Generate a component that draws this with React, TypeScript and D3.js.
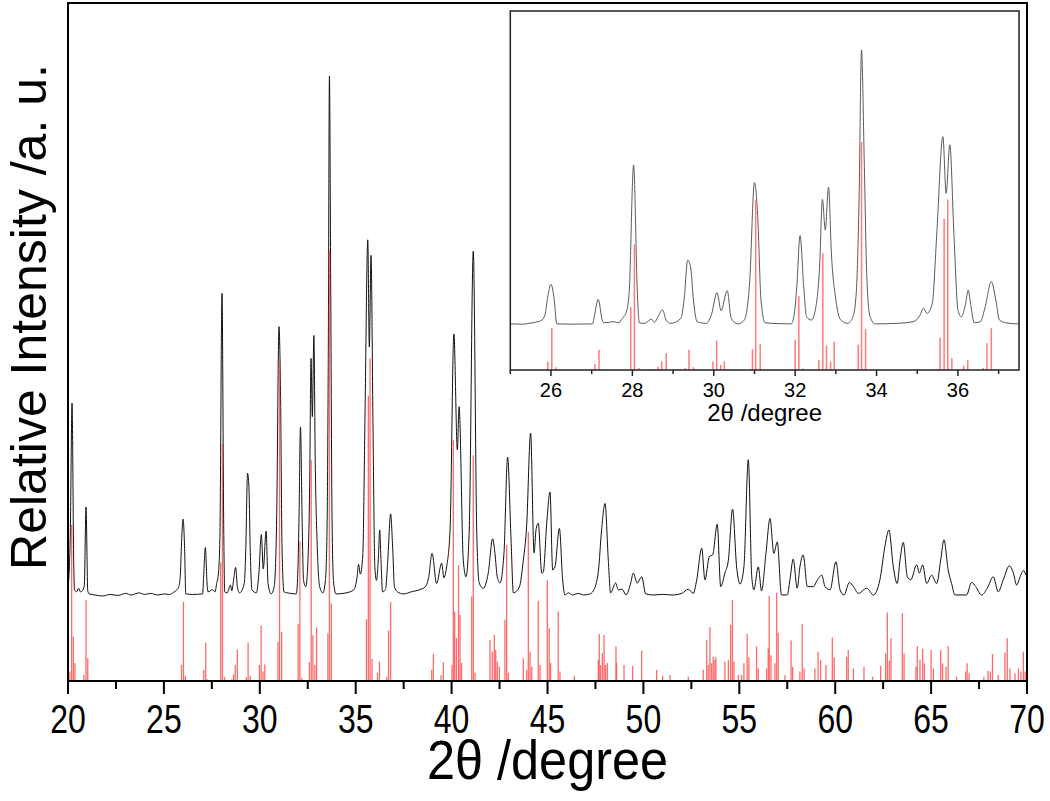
import React from "react";
import * as d3 from "d3";

// Measured XRD pattern: [2θ (degree), relative intensity (%)]
const pattern: [number, number][] = [
  [20.0, 1.2], [20.12, 12], [20.21, 37.1], [20.3, 6], [20.34, 1.2], [20.45, 0.8], [20.55, 1.5], [20.65, 0.8],
  [20.75, 1.0], [20.85, 2.0], [20.94, 17.1], [21.03, 1.0], [21.1, 0.4], [21.4, 0.2], [21.8, 0.0], [22.2, 0.3],
  [22.6, 0.1], [23.0, 0.5], [23.3, 0.2], [23.7, 0.6], [24.0, 0.3], [24.3, 0.5], [24.7, 0.2], [25.0, 0.4],
  [25.3, 0.3], [25.5, 0.7], [25.68, 1.2], [25.76, 1.6], [25.85, 3.6], [25.92, 10.3], [26.0, 14.8], [26.08, 9.1],
  [26.14, 0.4], [26.5, 0.3], [27.02, 0.4], [27.07, 3.6], [27.16, 9.3], [27.26, 1.8], [27.3, 0.8], [27.54, 1.2],
  [27.67, 0.8], [27.75, 2.4], [27.84, 4.2], [27.92, 11.5], [28.03, 58.2], [28.12, 12.7], [28.17, 0.8], [28.3, 0.6],
  [28.47, 2.1], [28.54, 1.0], [28.64, 3.3], [28.74, 5.5], [28.83, 1.8], [28.94, 0.6], [29.19, 2.4], [29.27, 9.1],
  [29.36, 23.6], [29.43, 21.2], [29.5, 9.1], [29.59, 1.2], [29.82, 0.6], [29.95, 4.2], [30.08, 11.8], [30.18, 5.2],
  [30.33, 12.5], [30.43, 2.4], [30.59, 0.4], [30.75, 1.8], [30.88, 15.2], [31.0, 51.8], [31.08, 39.4], [31.16, 9.1],
  [31.26, 0.8], [31.6, 0.5], [31.9, 0.4], [31.98, 4.2], [32.04, 13.9], [32.12, 32.5], [32.21, 13.9], [32.28, 3.0],
  [32.4, 1.8], [32.51, 6.7], [32.6, 21.2], [32.67, 45.7], [32.74, 34.5], [32.82, 50.1], [32.89, 26.1], [33.0, 9.1],
  [33.12, 1.8], [33.29, 0.6], [33.42, 3.0], [33.5, 11.5], [33.57, 45.5], [33.63, 100], [33.7, 57.6], [33.76, 17.6],
  [33.84, 3.0], [33.97, 0.4], [34.5, 0.6], [34.9, 1.2], [35.07, 3.6], [35.15, 6.1], [35.24, 4.2], [35.37, 7.9],
  [35.48, 33.3], [35.63, 68.5], [35.71, 47.9], [35.8, 65.5], [35.9, 33.3], [36.0, 5.5], [36.08, 3.0], [36.19, 7.9],
  [36.25, 12.7], [36.32, 6.7], [36.4, 0.8], [36.55, 1.2], [36.67, 6.7], [36.82, 15.8], [36.93, 9.1], [37.02, 1.8],
  [37.18, 0.8], [37.48, 0.4], [37.9, 0.8], [38.4, 1.3], [38.61, 1.7], [38.8, 3.5], [38.98, 8.2], [39.22, 2.4],
  [39.48, 6.3], [39.6, 3.5], [39.74, 5.6], [39.92, 12.7], [40.12, 50.4], [40.3, 28.1], [40.39, 36.4], [40.61, 6.9],
  [40.75, 3.7], [40.92, 12.7], [41.13, 66.3], [41.31, 12.7], [41.44, 2.5], [41.65, 1.5], [41.91, 4.4], [42.14, 11.0],
  [42.26, 8.2], [42.38, 3.7], [42.52, 2.5], [42.73, 8.2], [42.92, 26.7], [43.1, 10.8], [43.22, 0.6], [43.53, 1.7],
  [43.74, 6.9], [43.91, 13.3], [44.12, 31.3], [44.3, 8.3], [44.4, 12.7], [44.52, 14.0], [44.7, 4.4], [44.78, 4.6],
  [44.96, 14.0], [45.13, 20.0], [45.27, 5.0], [45.39, 5.6], [45.62, 13.0], [45.79, 3.1], [45.91, 0.2], [46.1, 0.6],
  [46.3, 0.2], [46.6, 0.5], [46.9, 0.2], [47.2, 0.4], [47.39, 1.0], [47.65, 4.7], [47.82, 12.7], [48.0, 17.8],
  [48.17, 6.9], [48.29, 0.6], [48.55, 2.5], [48.69, 1.2], [48.9, 1.3], [49.09, 0.2], [49.34, 2.5], [49.47, 4.4],
  [49.68, 2.5], [49.91, 3.7], [50.12, 0.4], [50.5, 0.2], [51.0, 0.3], [51.5, 0.2], [52.0, 0.5], [52.34, 1.3],
  [52.6, 0.5], [52.78, 3.1], [53.04, 9.2], [53.21, 3.1], [53.44, 7.6], [53.61, 7.9], [53.85, 13.8], [54.03, 1.8],
  [54.25, 4.4], [54.43, 6.9], [54.65, 16.7], [54.86, 5.6], [55.04, 2.3], [55.24, 5.6], [55.47, 26.2], [55.65, 3.7],
  [55.76, 1.2], [55.99, 5.6], [56.16, 1.0], [56.39, 8.2], [56.6, 14.9], [56.8, 8.2], [56.98, 10.4], [57.2, 0.2],
  [57.5, 0.2], [57.64, 3.1], [57.81, 7.1], [58.02, 1.5], [58.16, 5.6], [58.33, 7.9], [58.55, 1.8], [58.86, 1.8],
  [59.07, 3.1], [59.3, 4.0], [59.47, 1.8], [59.73, 1.2], [60.04, 6.6], [60.25, 1.2], [60.46, 0.2], [60.74, 2.6],
  [60.95, 1.8], [61.21, 0.5], [61.64, 1.5], [61.99, 0.2], [62.33, 3.1], [62.59, 9.5], [62.8, 12.7], [63.03, 5.6],
  [63.23, 2.4], [63.38, 6.9], [63.55, 10.3], [63.76, 3.7], [63.94, 3.1], [64.25, 6.0], [64.39, 4.4], [64.56, 6.0],
  [64.77, 2.4], [65.03, 4.0], [65.29, 2.4], [65.5, 6.9], [65.67, 10.8], [65.89, 5.0], [66.07, 2.4], [66.24, 0.2],
  [66.85, 0.2], [67.11, 2.6], [67.33, 1.8], [67.63, 0.2], [67.93, 1.5], [68.24, 3.7], [68.5, 0.8], [68.76, 3.1],
  [69.08, 5.8], [69.29, 4.4], [69.46, 2.1], [69.64, 3.7], [69.81, 4.9], [69.95, 4.0],
];

// Reference pattern (stick lines): [2θ (degree), relative intensity (%)]
const reference: [number, number][] = [
  [20.1, 2.2], [20.19, 36.2], [20.28, 10.3], [20.36, 4.2], [20.83, 1.4], [20.94, 18.8], [21.03, 5.3],
  [25.92, 3.7], [26.02, 18.4], [26.12, 1.2], [27.08, 2.6], [27.18, 8.9], [27.27, 0.4], [27.96, 27.5],
  [28.05, 55], [28.16, 0.9], [28.54, 0.4], [28.63, 1.5], [28.72, 3.7], [28.83, 7.3], [29.3, 0.9],
  [29.39, 8.9], [29.5, 1.2], [29.98, 3.7], [30.07, 12.9], [30.17, 2.2], [30.26, 3.8], [30.95, 9.1],
  [31.03, 74.4], [31.14, 11.4], [32.0, 13.3], [32.09, 32.4], [32.19, 0.7], [32.58, 4.4], [32.68, 51.2],
  [32.77, 10.7], [32.87, 3.7], [32.96, 12.4], [33.55, 11.1], [33.63, 100], [33.73, 18.0], [35.56, 14.3],
  [35.66, 66.2], [35.75, 74.8], [35.85, 5.1], [36.14, 1.9], [36.24, 4.5], [36.62, 0.9], [36.71, 11.7],
  [36.82, 18.3], [38.96, 2.6], [39.05, 6.3], [39.45, 1.4], [39.57, 4.3], [40.02, 3.7], [40.09, 55.9],
  [40.16, 16.1], [40.25, 10.0], [40.36, 26.9], [40.44, 15.3], [40.52, 4.2], [41.05, 19.6], [41.13, 52.4],
  [41.22, 1.9], [42.0, 9.5], [42.12, 6.8], [42.23, 10.7], [42.3, 7.2], [42.38, 4.5], [42.49, 3.3],
  [42.78, 14.2], [42.87, 31.6], [42.96, 1.9], [43.74, 5.3], [43.91, 2.6], [44.0, 34.6], [44.09, 6.8],
  [44.18, 3.3], [44.52, 18.6], [44.61, 3.7], [44.99, 23.4], [45.09, 12.2], [45.16, 4.2], [45.56, 16.1],
  [45.65, 2.2], [46.4, 1.2], [47.65, 4.9], [47.7, 10.9], [47.77, 3.7], [47.86, 6.5], [47.95, 10.7],
  [48.03, 3.7], [48.12, 4.2], [48.57, 8.0], [48.6, 4.2], [48.99, 3.7], [49.44, 3.5], [49.91, 7.0],
  [50.69, 2.6], [51.0, 1.2], [51.39, 1.4], [52.34, 1.0], [53.12, 2.6], [53.3, 9.5], [53.38, 3.7],
  [53.47, 12.5], [53.56, 4.1], [53.64, 5.6], [53.73, 4.9], [53.78, 5.5], [54.25, 4.5], [54.43, 4.9],
  [54.55, 13.0], [54.64, 18.8], [54.72, 4.5], [54.95, 1.4], [55.12, 1.4], [55.24, 4.1], [55.41, 10.9],
  [55.5, 5.5], [55.9, 8.0], [55.99, 2.9], [56.42, 2.9], [56.51, 7.6], [56.56, 19.7], [56.65, 6.0],
  [56.86, 4.1], [56.95, 20.5], [57.03, 11.2], [57.38, 1.4], [57.7, 9.4], [57.78, 3.3], [58.16, 2.2],
  [58.28, 13.2], [58.38, 2.9], [58.94, 2.9], [59.11, 6.8], [59.24, 4.9], [59.52, 3.7], [59.85, 10.1],
  [59.95, 5.5], [60.6, 5.6], [60.68, 7.2], [60.95, 2.9], [61.5, 3.3], [61.95, 1.0], [62.37, 3.5],
  [62.63, 6.4], [62.72, 15.9], [62.82, 4.7], [62.91, 9.9], [63.5, 15.7], [63.59, 6.4], [64.21, 3.3],
  [64.28, 8.1], [64.42, 5.0], [64.56, 7.4], [64.65, 4.1], [65.0, 7.2], [65.12, 2.9], [65.5, 7.2],
  [65.6, 4.1], [65.78, 3.3], [65.89, 8.1], [66.33, 1.0], [66.8, 2.2], [66.88, 4.1], [66.98, 1.8],
  [67.75, 1.0], [67.97, 2.4], [68.09, 2.2], [68.2, 6.3], [68.5, 1.4], [68.85, 6.6], [68.97, 9.9],
  [69.11, 2.9], [69.37, 1.8], [69.55, 2.9], [69.68, 2.2], [69.81, 6.8], [69.9, 2.2],
];

const mainMajorTicks = [20, 25, 30, 35, 40, 45, 50, 55, 60, 65, 70];
const mainMinorTicks = [22.5, 27.5, 32.5, 37.5, 42.5, 47.5, 52.5, 57.5, 62.5, 67.5];
const insetMajorTicks = [26, 28, 30, 32, 34, 36];
const insetMinorTicks = [25, 27, 29, 31, 33, 35, 37];
const xTitle = "2θ /degree";
const yTitle = "Relative Intensity /a. u.";

const FONT = "'Liberation Sans', Arial, Helvetica, sans-serif";

export default function App() {
  // main plot
  const x = d3.scaleLinear().domain([20, 70]).range([68, 1027]);
  const yP = d3.scaleLinear().domain([0, 100]).range([596, 76]);
  const yS = d3.scaleLinear().domain([0, 100]).range([681, 250]);
  // inset
  const xi = d3.scaleLinear().domain([25, 37.5]).range([510.3, 1019]);
  const yiP = d3.scaleLinear().domain([0, 100]).range([325, 50]);
  const yiS = d3.scaleLinear().domain([0, 100]).range([370, 142]);

  const mainLine =
    d3
      .line<[number, number]>()
      .x((d) => x(d[0]))
      .y((d) => yP(d[1]))
      .curve(d3.curveMonotoneX)(pattern) || "";
  const insetLine =
    d3
      .line<[number, number]>()
      .x((d) => xi(d[0]))
      .y((d) => yiP(d[1]))
      .curve(d3.curveMonotoneX)(pattern.filter((d) => d[0] >= 24.5 && d[0] <= 38)) || "";

  const insetRefs = reference.filter((d) => d[0] >= 25 && d[0] <= 37.5);

  return (
    <svg
      width={1050}
      height={801}
      style={{ position: "absolute", left: 0, top: 0, display: "block", background: "#fff" }}
      fontFamily={FONT}
    >
      <defs>
        <clipPath id="insetClip">
          <rect x={510.3} y={11} width={508.7} height={359} />
        </clipPath>
      </defs>
      <rect x={0} y={0} width={1050} height={801} fill="#fff" />

      {/* main data */}
      <path d={mainLine} fill="none" stroke="#111" strokeWidth={1} strokeLinejoin="round" />
      <g stroke="#ff5050" strokeWidth={1.3} strokeOpacity={0.85}>
        {reference.map((d, i) => (
          <line key={i} x1={x(d[0])} x2={x(d[0])} y1={yS(0)} y2={yS(d[1])} />
        ))}
      </g>

      {/* main frame */}
      <rect x={68} y={3} width={959} height={678} fill="none" stroke="#000" strokeWidth={2} />

      {/* main x ticks */}
      <g stroke="#000" strokeWidth={2}>
        {mainMajorTicks.map((t) => (
          <line key={t} x1={x(t)} x2={x(t)} y1={681} y2={694} />
        ))}
        {mainMinorTicks.map((t) => (
          <line key={t} x1={x(t)} x2={x(t)} y1={681} y2={689} />
        ))}
      </g>
      <g fill="#000" fontSize={40} textAnchor="middle">
        {mainMajorTicks.map((t) => (
          <text key={t} transform={`translate(${x(t)},733) scale(0.8,1)`}>
            {t}
          </text>
        ))}
      </g>
      <text
        transform={`translate(${(x(20) + x(70)) / 2},779) scale(0.9,1)`}
        textAnchor="middle"
        fontSize={56}
        fill="#000"
      >
        {xTitle}
      </text>
      <text transform={`translate(46,317) rotate(-90)`} textAnchor="middle" fontSize={50} fill="#000">
        {yTitle}
      </text>

      {/* inset */}
      <rect x={510.3} y={11} width={508.7} height={359} fill="#fff" />
      <g clipPath="url(#insetClip)">
        <path d={insetLine} fill="none" stroke="#5a5a5a" strokeWidth={1} strokeLinejoin="round" />
        <g stroke="#ff7b7b" strokeWidth={1.5}>
          {insetRefs.map((d, i) => (
            <line key={i} x1={xi(d[0])} x2={xi(d[0])} y1={yiS(0)} y2={yiS(d[1])} />
          ))}
        </g>
      </g>
      <rect x={510.3} y={11} width={508.7} height={359} fill="none" stroke="#222" strokeWidth={1.5} />
      <g stroke="#222" strokeWidth={1.5}>
        {insetMajorTicks.map((t) => (
          <line key={t} x1={xi(t)} x2={xi(t)} y1={370} y2={376} />
        ))}
        {insetMinorTicks.map((t) => (
          <line key={t} x1={xi(t)} x2={xi(t)} y1={370} y2={374} />
        ))}
      </g>
      <g fill="#000" fontSize={20} textAnchor="middle">
        {insetMajorTicks.map((t) => (
          <text key={t} x={xi(t)} y={397}>
            {t}
          </text>
        ))}
      </g>
      <text x={(xi(25) + xi(37.5)) / 2} y={421} textAnchor="middle" fontSize={24} fill="#000">
        {xTitle}
      </text>
    </svg>
  );
}
